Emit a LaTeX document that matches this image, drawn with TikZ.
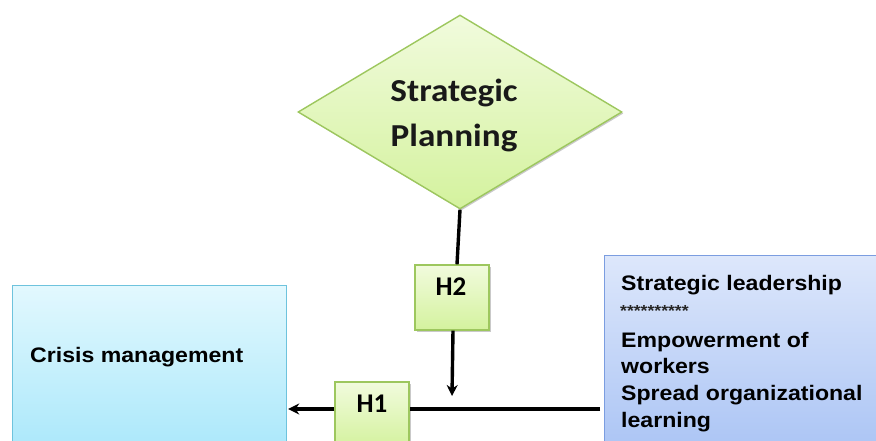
\documentclass[tikz,border=0pt]{standalone}
\usepackage{fontspec}
\setmainfont{Liberation Sans}
\newfontfamily\calib[FakeStretch=1.1]{Carlito}
\newfontfamily\calibn{Carlito}
\newfontfamily\arialw[FakeStretch=1.1]{Liberation Sans}
\usetikzlibrary{shapes.geometric,arrows.meta,shadows}
\definecolor{gtop}{HTML}{F1FBDD}
\definecolor{gbot}{HTML}{D4F29E}
\definecolor{gline}{HTML}{9DC75E}
\definecolor{ctop}{HTML}{E2F8FE}
\definecolor{cbot}{HTML}{A4E6FA}
\definecolor{cline}{HTML}{6EC3DD}
\definecolor{btop}{HTML}{DDE7FB}
\definecolor{bbot}{HTML}{A6C1F4}
\definecolor{bline}{HTML}{7B9DE0}
\tikzset{
  greenbox/.style={draw=gline, line width=1.4pt, top color=gtop, bottom color=gbot,
    drop shadow={shadow xshift=1.5pt, shadow yshift=-1.5pt, opacity=0.35, fill=black!60}},
  hbox/.style={greenbox, rectangle, minimum width=74pt, minimum height=65pt, inner sep=0pt},
  htext/.style={font=\calibn\bfseries\fontsize{27}{30}\selectfont, anchor=base, inner sep=0pt},
  boxtext/.style={font=\arialw\bfseries\fontsize{21}{26}\selectfont, anchor=base west, inner sep=0pt},
  diatext/.style={font=\calib\bfseries\fontsize{32}{44}\selectfont, anchor=base, inner sep=0pt, text=black!90},
  conn/.style={line width=3.4pt, draw=black},
  tip/.style={-{Stealth[length=11pt,width=11pt]}}
}
\begin{document}
\begin{tikzpicture}[x=1pt,y=-1pt]
\clip (0,0) rectangle (876,441);
\fill[white] (0,0) rectangle (876,441);
% Diamond
\node[greenbox, diamond, aspect=1.67, minimum width=324pt, minimum height=194pt, inner sep=0pt] (SP) at (460,112) {};
\node[diatext] (SPa) at (454,102) {Strategic};
\node[diatext] (SPb) at (454,147) {Planning};
% Boxes
\node[draw=cline, line width=1.2pt, top color=ctop, bottom color=cbot, rectangle, anchor=north west,
      minimum width=274pt, minimum height=185pt, inner sep=0pt] (CM) at (12,285) {};
\node[boxtext] (CMt) at (30,362) {Crisis management};
\node[draw=bline, line width=1.2pt, top color=btop, bottom color=bbot, rectangle, anchor=north west,
      minimum width=290pt, minimum height=215pt, inner sep=0pt] (RB) at (604,255) {};
\node[boxtext] (RB1) at (621,290) {Strategic leadership};
\node[font=\arialw\bfseries\fontsize{16}{20}\selectfont, anchor=base west, inner sep=0pt, text=black!85] (RB2) at (620,316) {**********};
\node[boxtext] (RB3) at (621,347) {Empowerment of};
\node[boxtext] (RB4) at (621,373) {workers};
\node[boxtext] (RB5) at (621,400) {Spread organizational};
\node[boxtext] (RB6) at (621,427) {learning};
% H boxes
\node[hbox] (H2) at (452,297.5) {};
\node[htext] (H2t) at (451,295) {H2};
\node[hbox] (H1) at (372,414.5) {};
\node[htext] (H1t) at (372,412) {H1};
% connectors
\coordinate (J) at (452,396);
\coordinate (R) at (600,409);
\draw[conn] (SP.south) -- ([xshift=5pt]H2.north);
\draw[conn, tip] ([xshift=1pt]H2.south) -- (J);
\draw[conn] (R) -- (R -| H1.east);
\draw[conn, tip] (R -| H1.west) -- ([xshift=1pt]R -| CM.east);
\end{tikzpicture}
\end{document}
